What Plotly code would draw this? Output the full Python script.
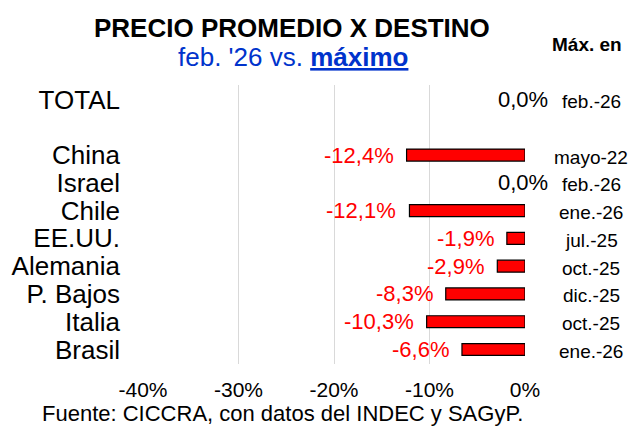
import plotly.graph_objects as go

categories = ["TOTAL", " ", "China", "Israel", "Chile", "EE.UU.", "Alemania", "P. Bajos", "Italia", "Brasil"]
values = [0.0, None, -12.4, 0.0, -12.1, -1.9, -2.9, -8.3, -10.3, -6.6]
max_dates = ["feb.-26", "", "mayo-22", "feb.-26", "ene.-26", "jul.-25", "oct.-25", "dic.-25", "oct.-25", "ene.-26"]
x_ticks = [-40, -30, -20, -10, 0]
x_tick_labels = ["-40%", "-30%", "-20%", "-10%", "0%"]

FONT = "Liberation Sans, Arial, sans-serif"
RED = "#ff0000"


def fmt(v):
    return f"{v:.1f}%".replace(".", ",")


fig = go.Figure()
fig.add_trace(go.Bar(
    y=categories,
    x=values,
    orientation="h",
    width=0.43,
    marker=dict(color=RED,
                line=dict(color="#000000",
                          width=[1.2 if (v is not None and v != 0) else 0 for v in values])),
    hoverinfo="skip",
))

for cat, v, d in zip(categories, values, max_dates):
    if v is None:
        continue
    if v < 0:
        fig.add_annotation(x=v, y=cat, xref="x", yref="y", text=fmt(v), showarrow=False,
                           xanchor="right", xshift=-11, font=dict(family=FONT, size=22, color=RED))
    else:
        fig.add_annotation(x=v, y=cat, xref="x", yref="y", text=fmt(v), showarrow=False,
                           xanchor="center", xshift=-2, font=dict(family=FONT, size=22, color="#000000"))
    fig.add_annotation(x=1.174, y=cat, xref="paper", yref="y", text=d, showarrow=False,
                       xanchor="center", yshift=-2, font=dict(family=FONT, size=19, color="#000000"))

fig.add_annotation(x=0.39, y=1, xref="paper", yref="paper", xanchor="center", yanchor="middle", yshift=57,
                   text="<b>PRECIO PROMEDIO X DESTINO</b>", showarrow=False,
                   font=dict(family=FONT, size=26, color="#000000"))
fig.add_annotation(x=0.392, y=1, xref="paper", yref="paper", xanchor="center", yanchor="middle", yshift=28,
                   text="feb. '26 vs. <b><u>máximo</u></b>", showarrow=False,
                   font=dict(family=FONT, size=26, color="#0033cc"))
fig.add_annotation(x=1.163, y=1, xref="paper", yref="paper", xanchor="center", yanchor="middle", yshift=41,
                   text="<b>Máx. en</b>", showarrow=False,
                   font=dict(family=FONT, size=19, color="#000000"))
fig.add_annotation(x=(36 - 140) / 385, y=0, xref="paper", yref="paper", xanchor="left", yanchor="middle",
                   yshift=-49, text="Fuente: CICCRA, con datos del INDEC y SAGyP.", showarrow=False,
                   font=dict(family=FONT, size=22, color="#000000"))

fig.update_layout(
    width=630, height=426,
    margin=dict(l=140, r=105, t=85, b=62),
    paper_bgcolor="white", plot_bgcolor="white",
    showlegend=False,
    font=dict(family=FONT, color="#000000"),
    xaxis=dict(range=[-40, 0], tickmode="array", tickvals=x_ticks, ticktext=x_tick_labels, showgrid=True,
               gridcolor="#d9d9d9", gridwidth=1, zeroline=False, showline=False,
               tickfont=dict(size=21), ticks="", ticklabelstandoff=11),
    yaxis=dict(type="category", categoryorder="array", categoryarray=categories, autorange="reversed",
               tickmode="array", tickvals=categories, ticktext=[c.strip() for c in categories],
               showgrid=False, zeroline=False, showline=False, tickfont=dict(size=26),
               ticks="", ticklabelstandoff=22),
)

fig.write_html("out.html", config={"displayModeBar": False},
               post_script="document.body.style.margin='0';")
